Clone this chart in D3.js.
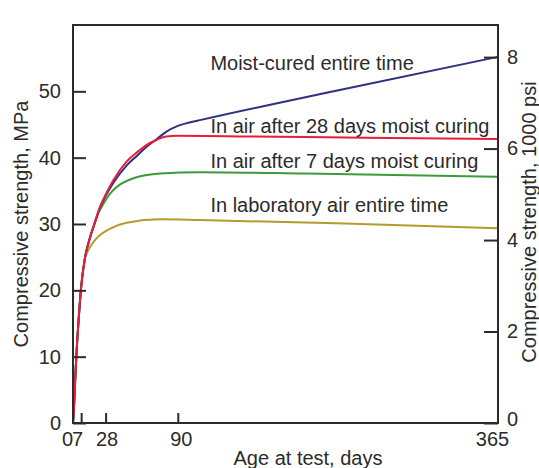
<!DOCTYPE html>
<html>
<head>
<meta charset="utf-8">
<script src="https://cdn.jsdelivr.net/npm/d3@7"></script>
<style>
  html, body { margin: 0; padding: 0; background: #fff; }
  text { font-family: "Liberation Sans", Arial, sans-serif; fill: #2b2b2b; }
</style>
</head>
<body>
<svg width="539" height="468"></svg>
<script>
const width = 539,
  height = 468;

// [age in days, strength in MPa]
const moistCured = [[0, 0], [1, 3], [2, 7], [3, 10.5], [5, 16], [7, 20.5], [10, 24.6], [14, 27.6],
  [18, 29.8], [23, 32.4], [28, 34.2], [35, 36.3], [46, 38.8], [55, 40.3], [63, 41.6], [72, 42.8],
  [80, 43.9], [90, 44.8], [100, 45.3], [110, 45.7], [226, 50.1], [365, 55.2]];
const air28 = [[0, 0], [1, 3], [2, 7], [3, 10.5], [5, 16], [7, 20.5], [10, 24.6], [14, 27.6],
  [18, 29.8], [23, 32.5], [28, 34.4], [35, 36.7], [46, 39.4], [55, 40.8], [63, 41.9], [72, 42.7],
  [80, 43.2], [90, 43.3], [150, 43.2], [250, 43.0], [365, 42.8]];
const air7 = [[0, 0], [1, 3], [2, 7], [3, 10.5], [5, 16], [7, 20.5], [10, 24.6], [14, 27.6],
  [18, 29.8], [22, 31.7], [26, 33.0], [32, 34.6], [37, 35.5], [52, 36.9], [75, 37.6], [109, 37.8],
  [200, 37.6], [365, 37.1]];
const labAir = [[0, 0], [1, 3], [2, 7], [3, 10.5], [5, 16], [7, 20.5], [10, 24.6], [13, 26.0],
  [16, 26.9], [20, 27.8], [32, 29.3], [46, 30.2], [75, 30.7], [109, 30.6], [226, 30.1], [365, 29.35]];

const seriesNames = ["Moist-cured entire time", "In air after 28 days moist curing",
  "In air after 7 days moist curing", "In laboratory air entire time"];
const seriesColors = ["#2e3080", "#e41e3c", "#3d9a3a", "#b59a2c"];

const xTicks = [0, 7, 28, 90, 365];
const yTicks = [0, 10, 20, 30, 40, 50];
const psiTicks = [0, 2, 4, 6, 8];
const mpaPerKsi = 6.895;

const margin = { top: 25, right: 41, bottom: 45, left: 73 };
const svg = d3.select("svg");

const x = d3.scaleLinear().domain([0, 365]).range([margin.left, width - margin.right]);
const y = d3.scaleLinear().domain([0, 60]).range([height - margin.bottom, margin.top]);
const yPsi = d3.scaleLinear().domain([0, 60 / mpaPerKsi]).range(y.range());

// curves
const line = d3.line()
  .x(d => x(d[0]))
  .y(d => y(d[1]))
  .curve(d3.curveMonotoneX);

const allSeries = [labAir, air7, moistCured, air28];
const allColors = [seriesColors[3], seriesColors[2], seriesColors[0], seriesColors[1]];

svg.selectAll("path.curve")
  .data(allSeries)
  .enter()
  .append("path")
  .attr("class", "curve")
  .attr("d", line)
  .attr("fill", "none")
  .attr("stroke", (d, i) => allColors[i])
  .attr("stroke-width", 2);

// axes
const axisLeft = svg.append("g")
  .attr("transform", `translate(${margin.left},0)`)
  .call(d3.axisLeft(y).tickValues(yTicks).tickSize(-13).tickPadding(12).tickSizeOuter(0));

const axisBottom = svg.append("g")
  .attr("transform", `translate(0,${height - margin.bottom})`)
  .call(d3.axisBottom(x).tickValues(xTicks).tickSize(-10).tickPadding(9).tickSizeOuter(0));

const axisRight = svg.append("g")
  .attr("transform", `translate(${width - margin.right},0)`)
  .call(d3.axisRight(yPsi).tickValues(psiTicks).tickSize(-14).tickPadding(9).tickSizeOuter(0));

[axisLeft, axisBottom, axisRight].forEach(g => {
  g.select(".domain").remove();
  g.selectAll("line").attr("stroke", "#2b2b2b").attr("stroke-width", 2);
  g.selectAll("text")
    .style("font-family", "'Liberation Sans', Arial, sans-serif")
    .style("font-size", "20px")
    .attr("fill", "#2b2b2b");
});

// ticks at 0 and 365 sit on the frame
axisBottom.selectAll(".tick")
  .filter(d => d === 0 || d === 365)
  .select("line")
  .remove();
axisBottom.selectAll(".tick text")
  .attr("dx", d => (d === 0 ? -6 : d === 7 ? -4 : d === 28 ? 1 : d === 90 ? 3 : -6));
axisRight.selectAll(".tick text")
  .attr("dy", d => (d === 0 ? "0.1em" : "0.32em"));

// frame
svg.append("rect")
  .attr("x", margin.left)
  .attr("y", margin.top)
  .attr("width", width - margin.left - margin.right)
  .attr("height", height - margin.top - margin.bottom)
  .attr("fill", "none")
  .attr("stroke", "#2b2b2b")
  .attr("stroke-width", 2);

// curve labels
const labelPos = [[118, 53.2], [118, 43.7], [118, 38.4], [118, 31.8]];
svg.selectAll("text.curve-label")
  .data(seriesNames)
  .enter()
  .append("text")
  .attr("class", "curve-label")
  .attr("x", (d, i) => x(labelPos[i][0]))
  .attr("y", (d, i) => y(labelPos[i][1]))
  .attr("font-size", 20)
  .text(d => d);

// axis titles
svg.append("text")
  .attr("x", 308)
  .attr("y", 465)
  .attr("text-anchor", "middle")
  .attr("font-size", 20)
  .text("Age at test, days");

svg.append("text")
  .attr("transform", "translate(28,224) rotate(-90)")
  .attr("text-anchor", "middle")
  .attr("font-size", 20)
  .text("Compressive strength, MPa");

svg.append("text")
  .attr("transform", "translate(536,222) rotate(-90)")
  .attr("text-anchor", "middle")
  .attr("font-size", 20)
  .text("Compressive strength, 1000 psi");
</script>
</body>
</html>
